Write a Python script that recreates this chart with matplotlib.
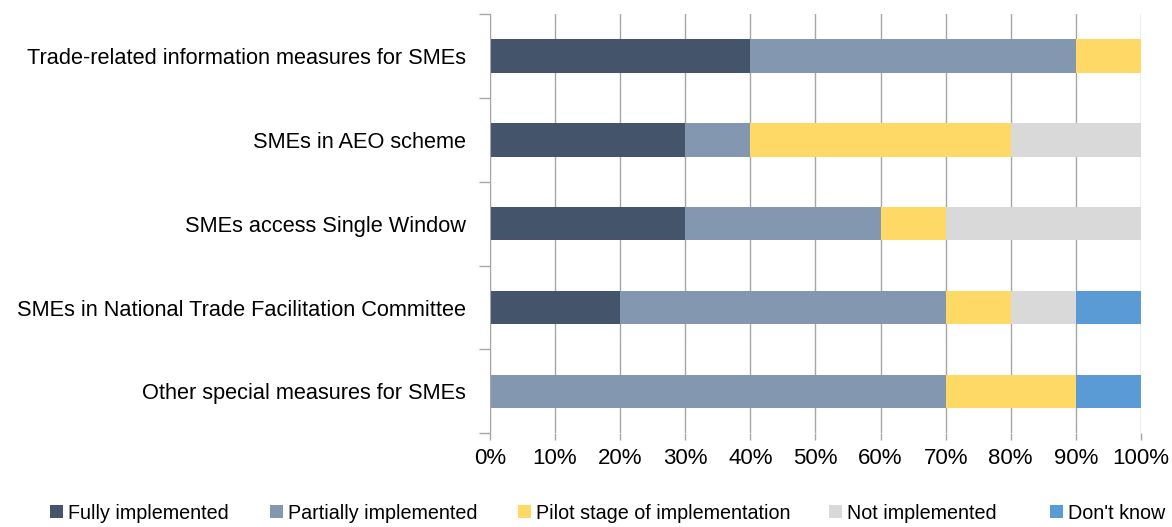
import numpy as np
import matplotlib
matplotlib.use("Agg")
import matplotlib.pyplot as plt
from matplotlib.ticker import FixedLocator, PercentFormatter

plt.rcParams['font.family'] = ['Liberation Sans', 'DejaVu Sans']

categories = ["Trade-related information measures for SMEs",
              "SMEs in AEO scheme",
              "SMEs access Single Window",
              "SMEs in National Trade Facilitation Committee",
              "Other special measures for SMEs"]
series_names = ["Fully implemented", "Partially implemented",
                "Pilot stage of implementation", "Not implemented", "Don't know"]
fully = [40, 30, 30, 20, 0]
partially = [50, 10, 30, 50, 70]
pilot = [10, 40, 10, 10, 20]
not_impl = [0, 20, 30, 10, 0]
dont_know = [0, 0, 0, 10, 10]
colors = ["#44546A", "#8497B0", "#FFD966", "#D9D9D9", "#5B9BD5"]

fig = plt.figure(figsize=(11.72, 5.27), dpi=100)
ax = fig.add_axes([0.418, 0.178, 0.5555, 0.795])

y = np.arange(len(categories))
left = np.zeros(len(categories))
for name, vals, c in zip(series_names, [fully, partially, pilot, not_impl, dont_know], colors):
    ax.barh(y, vals, left=left, height=0.4, color=c, label=name, zorder=3)
    left += np.array(vals)

ax.set_xlim(0, 100)
ax.set_ylim(len(categories) - 0.5, -0.5)
ax.set_xticks(np.arange(0, 101, 10))
ax.xaxis.set_major_formatter(PercentFormatter(decimals=0))
ax.set_yticks(y)
ax.set_yticklabels(categories)
ax.yaxis.set_minor_locator(FixedLocator(np.arange(-0.5, len(categories), 1)))
ax.tick_params(axis='y', which='major', length=0, pad=17, labelsize=15.7)
ax.tick_params(axis='y', which='minor', length=8, color='#A6A6A6', width=1)
ax.tick_params(axis='x', length=5, color='#A6A6A6', width=1, labelsize=16, pad=6)
ax.grid(axis='x', color='#A6A6A6', linewidth=1, zorder=0)
for s in ['top', 'right', 'bottom']:
    ax.spines[s].set_visible(False)
ax.spines['left'].set_color('#A6A6A6')
ax.spines['left'].set_zorder(4)

# legend entries placed one by one, like the Excel layout
handles, labels = ax.get_legend_handles_labels()
legend_x = [50, 270, 518, 829, 1050]
for h, l, xp in zip(handles, labels, legend_x):
    fig.legend([h], [l], loc='center left', bbox_to_anchor=(xp / 1172, 0.026),
               frameon=False, fontsize=14.2, handlelength=0.64, handleheight=0.64,
               handletextpad=0.25, borderpad=0, borderaxespad=0)

fig.savefig("out.png", dpi=100)
